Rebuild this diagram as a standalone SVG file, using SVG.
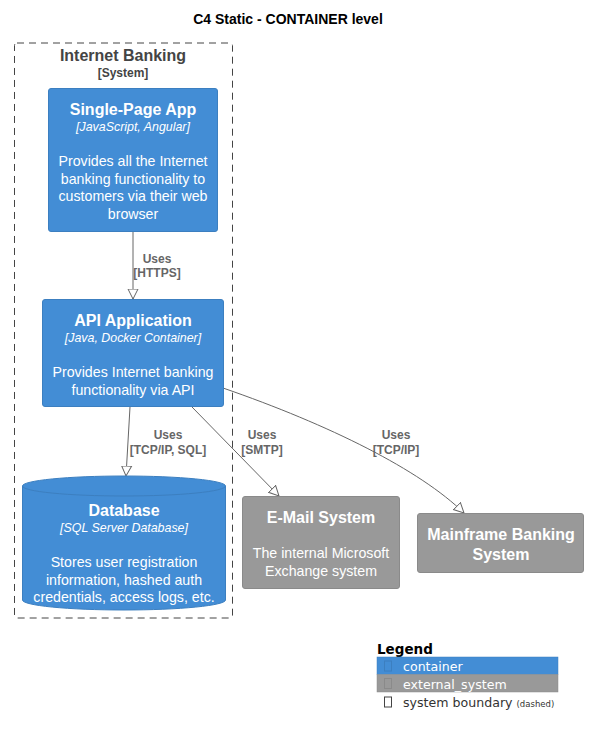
<svg xmlns="http://www.w3.org/2000/svg" width="589" height="736" viewBox="0 0 589 736">
<style>
text{font-family:"Liberation Sans",Arial,sans-serif;text-anchor:middle}
.title{font-size:14px;font-weight:bold;fill:#000}
.bname{font-size:16px;font-weight:bold;fill:#444}
.btype{font-size:12px;font-weight:bold;fill:#444}
.cont{fill:#438DD5;stroke:#3C7FC0;stroke-width:1}
.ext{fill:#999999;stroke:#8A8A8A;stroke-width:1}
.n{font-size:16px;font-weight:bold;fill:#fff}
.t{font-size:12.4px;font-style:italic;fill:#fff}
.d{font-size:14.2px;fill:#fff}
.rel{fill:none;stroke:#666;stroke-width:1}
.rl{font-size:12px;font-weight:bold;fill:#666}
.lg{font-family:"DejaVu Sans",Verdana,sans-serif;text-anchor:start}
</style>
<defs>
<marker id="arr" markerWidth="12" markerHeight="12" refX="10" refY="5" orient="auto" markerUnits="userSpaceOnUse" viewBox="0 0 12 10">
<path d="M0,0 L10,5 L0,10 Z" fill="#fff" stroke="#666" stroke-width="1"/>
</marker>
</defs>
<rect width="589" height="736" fill="#fff"/>
<text class="title" x="288" y="24">C4 Static - CONTAINER level</text>

<g id="boundary">
<rect x="14.5" y="43" width="218" height="575" rx="2.5" fill="none" stroke="#444" stroke-width="1" stroke-dasharray="7,5"/>
<text class="bname" x="123" y="61">Internet Banking</text>
<text class="btype" x="123" y="77">[System]</text>
</g>

<g id="connectors">
<path class="rel" d="M133,232 L133,299" marker-end="url(#arr)"/>
<text class="rl" x="157" y="263">Uses</text>
<text class="rl" x="157" y="277">[HTTPS]</text>
<path class="rel" d="M130,407 L126,476" marker-end="url(#arr)"/>
<text class="rl" x="168" y="439">Uses</text>
<text class="rl" x="168" y="454">[TCP/IP, SQL]</text>
<path class="rel" d="M192,407 L279,496" marker-end="url(#arr)"/>
<text class="rl" x="262" y="439">Uses</text>
<text class="rl" x="262" y="454">[SMTP]</text>
<path class="rel" d="M223,388 C330,425 420,470 464,513" marker-end="url(#arr)"/>
<text class="rl" x="396" y="439">Uses</text>
<text class="rl" x="396" y="454">[TCP/IP]</text>
</g>

<g id="spa">
<rect class="cont" x="48.5" y="88.5" width="169" height="143" rx="2.5"/>
<text class="n" x="133" y="115">Single-Page App</text>
<text class="t" x="133" y="131">[JavaScript, Angular]</text>
<text class="d" x="133" y="166">Provides all the Internet</text>
<text class="d" x="133" y="184">banking functionality to</text>
<text class="d" x="133" y="201">customers via their web</text>
<text class="d" x="133" y="219">browser</text>
</g>

<g id="api">
<rect class="cont" x="42.5" y="299.5" width="181" height="107" rx="2.5"/>
<text class="n" x="133" y="326">API Application</text>
<text class="t" x="133" y="342">[Java, Docker Container]</text>
<text class="d" x="133" y="377">Provides Internet banking</text>
<text class="d" x="133" y="395">functionality via API</text>
</g>

<g id="database">
<path class="cont" d="M22.5,486 A101.5,10 0 0 1 225.5,486 L225.5,600 A101.5,10 0 0 1 22.5,600 Z"/>
<path d="M22.5,486 A101.5,10 0 0 0 225.5,486" fill="none" stroke="#3C7FC0" stroke-width="1"/>
<text class="n" x="124" y="516">Database</text>
<text class="t" x="124" y="532">[SQL Server Database]</text>
<text class="d" x="124" y="567">Stores user registration</text>
<text class="d" x="124" y="585">information, hashed auth</text>
<text class="d" x="124" y="602">credentials, access logs, etc.</text>
</g>

<g id="email">
<rect class="ext" x="242.5" y="496.5" width="157" height="92" rx="2.5"/>
<text class="n" x="321" y="523">E-Mail System</text>
<text class="d" x="321" y="558">The internal Microsoft</text>
<text class="d" x="321" y="576">Exchange system</text>
</g>

<g id="mainframe">
<rect class="ext" x="417.5" y="513.5" width="166" height="59" rx="2.5"/>
<text class="n" x="501" y="540">Mainframe Banking</text>
<text class="n" x="501" y="560">System</text>
</g>

<g id="legend">
<text class="lg" x="377" y="654" font-size="13.5" font-weight="bold" fill="#000">Legend</text>
<rect x="377" y="657" width="181" height="17.5" fill="#438DD5" stroke="#3C7FC0" stroke-width="0.5"/>
<rect x="377" y="674.5" width="181" height="17.5" fill="#999999" stroke="#8A8A8A" stroke-width="0.5"/>
<rect x="384.5" y="661" width="7" height="10" fill="none" stroke="#3C7FC0" stroke-width="1"/>
<rect x="384.5" y="678.5" width="7" height="10" fill="none" stroke="#8A8A8A" stroke-width="1"/>
<rect x="384.5" y="697" width="7" height="10" fill="none" stroke="#444" stroke-width="1"/>
<text class="lg" x="403" y="671" font-size="12.6" fill="#fff">container</text>
<text class="lg" x="403" y="689" font-size="12.6" fill="#fff">external_system</text>
<text class="lg" x="403" y="707" font-size="12.6" fill="#333">system boundary <tspan font-size="8.5">(dashed)</tspan></text>
</g>
</svg>
